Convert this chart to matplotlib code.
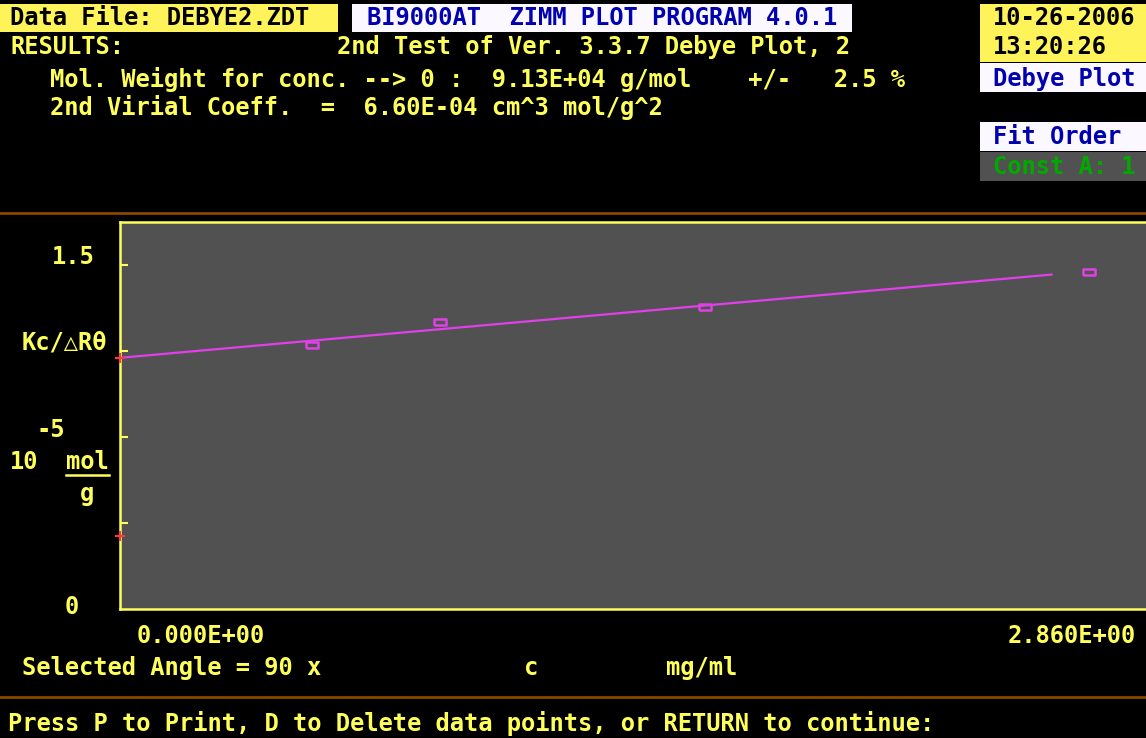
import numpy as np
import matplotlib.pyplot as plt
from matplotlib.patches import Rectangle
from matplotlib.lines import Line2D

# measured concentrations (mg/ml) and Kc/dR values (1e-5 mol/g)
conc = [0.566, 0.946, 1.726, 2.86]
kc_r = [1.151, 1.251, 1.315, 1.471]

# fit results
mol_weight = 9.13e4        # g/mol
virial_a2 = 6.60e-4        # cm^3 mol/g^2
fit_c_end = 2.75
extra_marks = [0.318]      # second red mark on the y axis

y_ticks = [0.375, 0.75, 1.125, 1.5]
y_max = 1.6875
x_max = 3.029

W, H = 1146, 738
YEL = '#ffff5a'
YEL_BOX = '#fff35a'
BLUE = '#0000b0'
WHITE = '#fbf8ff'
GRAY = '#515151'
BROWN = '#8c4600'
MAG = '#e040e8'
FONT = ['DejaVu Sans Mono', 'DejaVu Sans']
FS = 17.1


def fx(x):
    return x / W


def fy(y):
    return 1 - y / H


fig = plt.figure(figsize=(W / 100, H / 100), dpi=100, facecolor='black')


def box(x0, y0, x1, y1, color):
    fig.patches.append(Rectangle((fx(x0), fy(y1)), fx(x1) - fx(x0), fy(y0) - fy(y1),
                                 transform=fig.transFigure, facecolor=color,
                                 edgecolor='none', zorder=0))


def txt(x, y, s, color=YEL, ha='left'):
    fig.text(fx(x), fy(y), s, color=color, ha=ha, va='center',
             family=FONT, weight='bold', fontsize=FS)


def hline(x0, x1, y, color, lw):
    fig.lines.append(Line2D([fx(x0), fx(x1)], [fy(y), fy(y)], color=color,
                            linewidth=lw, transform=fig.transFigure))


# header boxes
box(0, 4, 338, 32, YEL_BOX)
box(352, 4, 852, 32, WHITE)
box(980, 4, 1146, 62, YEL_BOX)
box(980, 63, 1146, 92, WHITE)
box(980, 122, 1146, 151, WHITE)
box(980, 152, 1146, 181, GRAY)

txt(10, 18, 'Data File: DEBYE2.ZDT', 'black')
txt(367, 18, 'BI9000AT  ZIMM PLOT PROGRAM 4.0.1', BLUE)
txt(993, 18, '10-26-2006', 'black')
txt(993, 47, '13:20:26', 'black')
txt(993, 79, 'Debye Plot', BLUE)
txt(993, 137, 'Fit Order', BLUE)
txt(993, 167, 'Const A: 1', '#00a800')

txt(10, 47, 'RESULTS:')
txt(337, 47, '2nd Test of Ver. 3.3.7 Debye Plot, 2')
txt(50, 79, 'Mol. Weight for conc. --> 0 :  %.2E g/mol    +/-   2.5 %%' % mol_weight)
txt(50, 108, '2nd Virial Coeff.  =  %.2E cm^3 mol/g^2' % virial_a2)

hline(0, W, 213, BROWN, 2)
hline(0, W, 697, BROWN, 2)

# plot area
ax = fig.add_axes([fx(120), fy(609), fx(W) - fx(120), fy(222) - fy(609)])
ax.set_facecolor(GRAY)
ax.set_xlim(0, x_max)
ax.set_ylim(0, y_max)
for side in ['left', 'top', 'bottom']:
    ax.spines[side].set_color(YEL)
    ax.spines[side].set_linewidth(1.8)
ax.spines['right'].set_visible(False)
ax.set_xticks([])
ax.set_yticks(y_ticks)
ax.tick_params(axis='y', direction='in', length=6, width=1.5, color=YEL,
               labelleft=False)

intercept = 1e5 / mol_weight
slope = 2 * virial_a2 * 1e-3 * 1e5
cfit = np.array([0, fit_c_end])
ax.plot(cfit, intercept + slope * cfit, color=MAG, lw=1.6)

rect = [(-1.4, -0.85), (1.4, -0.85), (1.4, 0.85), (-1.4, 0.85), (-1.4, -0.85)]
ax.plot(conc, kc_r, linestyle='none', marker=rect, markersize=8,
        markerfacecolor='none', markeredgecolor=MAG, markeredgewidth=1.8)
ax.plot([0] * (1 + len(extra_marks)), [intercept] + extra_marks, linestyle='none',
        marker='+', markersize=7, color='#ff3a3a', mew=1.5, clip_on=False, zorder=5)

# axis labels
txt(52, 257, '1.5')
txt(22, 343, 'Kc/△Rθ')
txt(37, 430, '-5')
txt(10, 462, '10')
txt(66, 462, 'mol')
hline(66, 109, 475, YEL, 1.8)
txt(80, 494, 'g')
txt(65, 607, '0')

txt(137, 636, '0.000E+00')
txt(1136, 636, '%.3E' % max(conc), ha='right')
txt(22, 668, 'Selected Angle = 90 x')
txt(524, 668, 'c')
txt(666, 668, 'mg/ml')

txt(8, 724, 'Press P to Print, D to Delete data points, or RETURN to continue:')

plt.savefig('out.png', dpi=100, facecolor='black')
